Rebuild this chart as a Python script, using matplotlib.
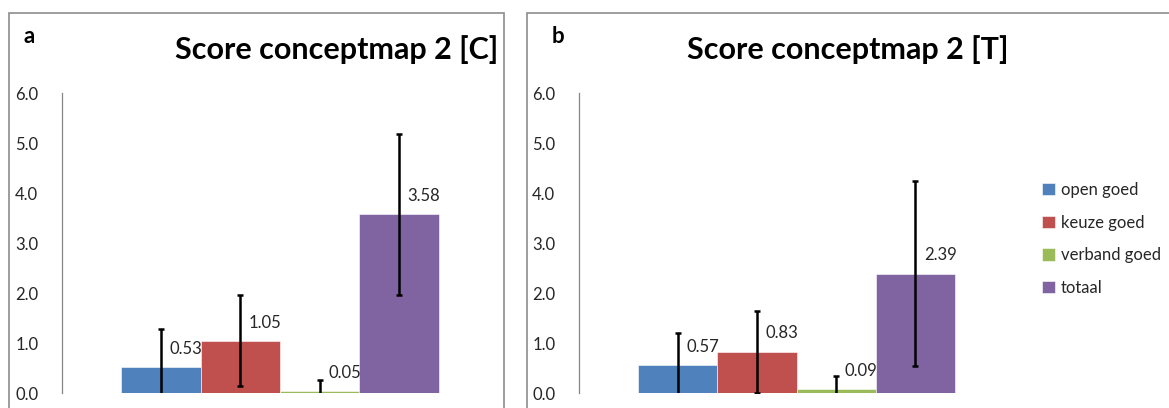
import matplotlib.pyplot as plt
from matplotlib.patches import Rectangle

plt.rcParams['font.family'] = ['Lato', 'DejaVu Sans']

# gegevens
reeksen = ["open goed", "keuze goed", "verband goed", "totaal"]
kleuren = ["#4F81BD", "#C0504D", "#9BBB59", "#8064A2"]

score_C = [0.53, 1.05, 0.05, 3.58]
sd_C = [0.76, 0.91, 0.22, 1.61]

score_T = [0.57, 0.83, 0.09, 2.39]
sd_T = [0.64, 0.82, 0.25, 1.84]

yticks = [0.0, 1.0, 2.0, 3.0, 4.0, 5.0, 6.0]

W, H = 1169, 408
fig = plt.figure(figsize=(W / 100, H / 100), dpi=100)

# kaders rond de twee grafieken
for x0, x1 in [(9, 504), (527, 1200)]:
    fig.patches.append(Rectangle((x0 / W, -0.1), (x1 - x0) / W, 1.1 - 13 / H,
                                 transform=fig.transFigure, fill=False,
                                 edgecolor="#8c8c8c", lw=1.2))


def teken(ax, scores, sds):
    x = range(len(scores))
    staven = ax.bar(x, scores, width=1.0, color=kleuren, edgecolor="white",
                    linewidth=0.4)
    ax.errorbar(x, scores, yerr=sds, fmt="none", ecolor="black",
                elinewidth=1.8, capsize=2.5, capthick=1.8)
    for xi, v in zip(x, scores):
        ax.annotate(f"{v:.2f}", (xi, v), xytext=(25, 18),
                    textcoords="offset pixels", ha="center", va="center",
                    fontsize=12, color="#262626")
    ax.set_xlim(-1.25, 4.25)
    ax.set_ylim(0, 6)
    ax.set_yticks(yticks)
    ax.set_yticklabels([f"{t:.1f}" for t in yticks])
    ax.set_xticks([])
    for s in ["top", "right", "bottom"]:
        ax.spines[s].set_visible(False)
    ax.spines["left"].set_color("#868686")
    ax.spines["left"].set_linewidth(0.9)
    ax.tick_params(axis="y", length=0, pad=17, labelsize=12, labelcolor="#262626")
    return staven


ax1 = fig.add_axes([62 / W, 1 - 393 / H, 436 / W, 300 / H])
ax2 = fig.add_axes([579 / W, 1 - 393 / H, 435 / W, 300 / H])

staven = teken(ax1, score_C, sd_C)
teken(ax2, score_T, sd_T)

fig.text(337 / W, 1 - 50 / H, "Score conceptmap 2 [C]", fontsize=22,
         fontweight="bold", ha="center", va="center")
fig.text(848 / W, 1 - 50 / H, "Score conceptmap 2 [T]", fontsize=22,
         fontweight="bold", ha="center", va="center")
fig.text(23 / W, 1 - 43 / H, "a", fontsize=16, fontweight="bold", ha="left",
         va="baseline")
fig.text(552 / W, 1 - 43 / H, "b", fontsize=16, fontweight="bold", ha="left",
         va="baseline")

fig.legend(staven, reeksen, loc="upper left",
           bbox_to_anchor=(1042 / W, 1 - 182 / H), frameon=False,
           fontsize=12, handlelength=0.75, handleheight=0.75,
           handletextpad=0.4, labelspacing=1.0, borderpad=0,
           borderaxespad=0, labelcolor="#262626")

fig.savefig("out.png", dpi=100)
